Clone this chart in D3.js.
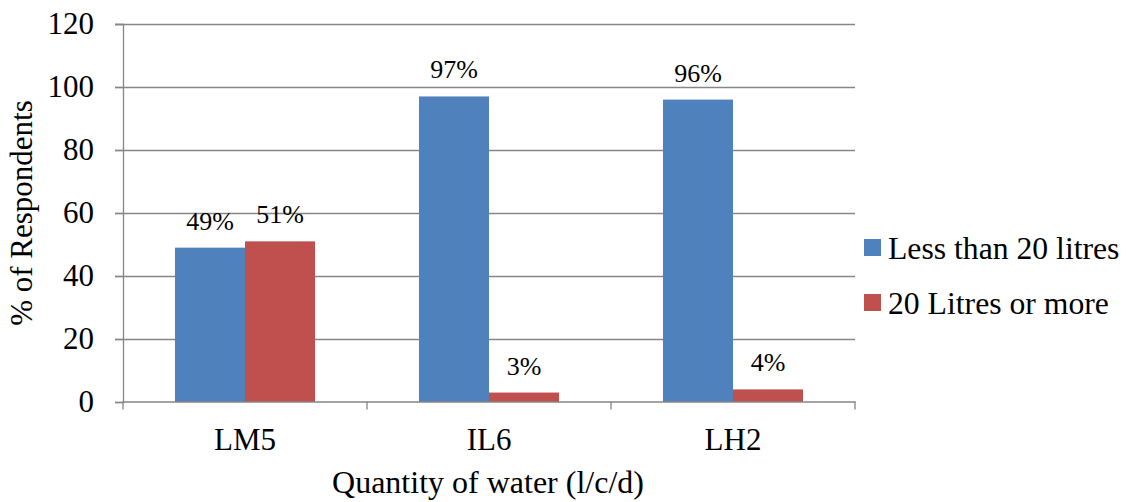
<!DOCTYPE html>
<html><head><meta charset="utf-8">
<script src="https://cdn.jsdelivr.net/npm/d3@7"></script>
<style>body{margin:0;background:#fff}svg{display:block}text{font-family:"Times New Roman","Liberation Serif",serif;fill:#000}</style>
</head><body>
<script>
const categories = ["LM5", "IL6", "LH2"];
const seriesNames = ["Less than 20 litres", "20 Litres or more"];
const lessThan20 = [49, 97, 96];
const twentyOrMore = [51, 3, 4];
const yTicks = [0, 20, 40, 60, 80, 100, 120];
const colors = ["#4F81BD", "#C0504D"];

const W = 1127, H = 502;
const m = {left: 123, right: 855, top: 24, bottom: 402};
const svg = d3.select("body").append("svg").attr("width", W).attr("height", H);

const x = d3.scaleBand().domain(categories).range([m.left, m.right]).paddingInner(0).paddingOuter(0);
const xs = d3.scaleBand().domain([0, 1]).range([0, 140]);
const y = d3.scaleLinear().domain([0, 120]).range([m.bottom, m.top]);
const axisColor = "#868686";
const big = 31;

// gridlines
svg.append("g").selectAll("line").data(yTicks.filter(d => d > 0)).join("line")
  .attr("x1", m.left - 8).attr("x2", m.right)
  .attr("y1", d => Math.round(y(d)) + 0.5).attr("y2", d => Math.round(y(d)) + 0.5)
  .attr("stroke", axisColor).attr("stroke-width", 1.3);

// y axis
const ya = svg.append("g").attr("transform", `translate(${m.left},0)`)
  .call(d3.axisLeft(y).tickValues(yTicks).tickSize(8).tickPadding(21));
ya.attr("font-family", null).attr("font-size", null);
ya.select(".domain").attr("stroke", axisColor).attr("stroke-width", 1.3);
ya.selectAll(".tick line").attr("stroke", axisColor).attr("stroke-width", 1.3);
ya.selectAll(".tick text").attr("font-size", big).attr("fill", "#000");

// bars
const data = categories.map((c, i) => ({c, vals: [lessThan20[i], twentyOrMore[i]]}));
const groups = svg.append("g").selectAll("g").data(data).join("g")
  .attr("transform", d => `translate(${x(d.c) + (x.bandwidth() - 140) / 2},0)`);
groups.selectAll("rect").data(d => d.vals.map((v, k) => ({v, k}))).join("rect")
  .attr("x", d => xs(d.k)).attr("width", xs.bandwidth())
  .attr("y", d => y(d.v)).attr("height", d => y(0) - y(d.v))
  .attr("fill", d => colors[d.k]);
groups.selectAll("text").data(d => d.vals.map((v, k) => ({v, k}))).join("text")
  .attr("x", d => xs(d.k) + xs.bandwidth() / 2).attr("y", d => y(d.v) - 18)
  .attr("text-anchor", "middle").attr("font-size", 26).text(d => d.v + "%");

// x axis
const xa = svg.append("g").attr("transform", `translate(0,${m.bottom - 0.5})`)
  .call(d3.axisBottom(x).tickSize(0).tickPadding(26));
xa.attr("font-family", null).attr("font-size", null);
xa.select(".domain").attr("stroke", axisColor).attr("stroke-width", 1.3);
xa.selectAll(".tick text").attr("font-size", big).attr("fill", "#000");
xa.append("g").selectAll("line").data(d3.range(categories.length + 1)).join("line")
  .attr("x1", i => m.left + i * x.bandwidth()).attr("x2", i => m.left + i * x.bandwidth())
  .attr("y1", 0).attr("y2", 8).attr("stroke", axisColor).attr("stroke-width", 1.3);

// titles
svg.append("text").attr("x", (m.left + m.right) / 2 - 1).attr("y", 493)
  .attr("text-anchor", "middle").attr("font-size", 32).text("Quantity of water (l/c/d)");
svg.append("text").attr("transform", `translate(32,${(m.top + m.bottom) / 2}) rotate(-90)`)
  .attr("text-anchor", "middle").attr("font-size", big).text("% of Respondents");

// legend
const lg = svg.append("g").selectAll("g").data(seriesNames).join("g")
  .attr("transform", (d, i) => `translate(864,${239 + i * 55})`);
lg.append("rect").attr("width", 17).attr("height", 17).attr("fill", (d, i) => colors[i]);
lg.append("text").attr("x", 24).attr("y", 20).attr("font-size", 31.7).text(d => d);
</script>
</body></html>
